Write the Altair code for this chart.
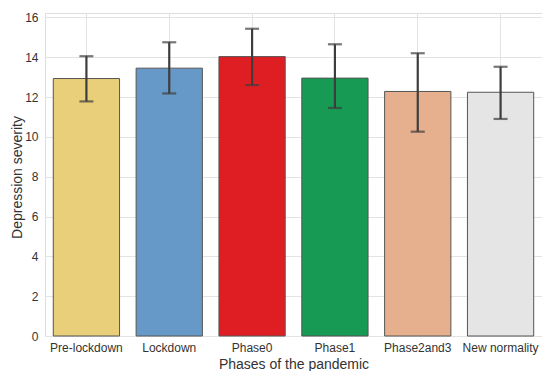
import altair as alt
import pandas as pd

phases = ["Pre-lockdown", "Lockdown", "Phase0", "Phase1", "Phase2and3", "New normality"]
means = [12.93, 13.45, 14.03, 12.95, 12.28, 12.24]
lower = [11.78, 12.18, 12.60, 11.45, 10.26, 10.90]
upper = [14.05, 14.75, 15.43, 14.65, 14.20, 13.52]
colors = ["#E9CF79", "#6699C7", "#DF1E24", "#179A53", "#E6B08F", "#E5E5E5"]

df = pd.DataFrame({"phase": phases, "mean": means, "lo": lower, "hi": upper})

FONT = "Liberation Sans"

x_enc = alt.X(
    "phase:N",
    sort=phases,
    scale=alt.Scale(paddingInner=0.2, paddingOuter=0.1),
    axis=alt.Axis(
        title="Phases of the pandemic",
        labelAngle=0,
        labelFontSize=12,
        labelFont=FONT,
        labelColor="#333333",
        labelPadding=6,
        ticks=False,
        tickSize=0,
        domain=False,
        grid=True,
        bandPosition=0.5,
        gridColor="#e3e3e3",
        gridWidth=1,
        titleFontSize=14,
        titleFont=FONT,
        titleFontWeight="normal",
        titleColor="#333333",
        titleBaseline="alphabetic",
        titleY=32,
    ),
)

y_scale = alt.Scale(domain=[0, 16.22], nice=False, zero=True)

y_axis = alt.Axis(
    title="Depression severity",
    values=[0, 2, 4, 6, 8, 10, 12, 14, 16],
    labelFontSize=12,
    labelFont=FONT,
    labelColor="#333333",
    labelPadding=7,
    ticks=False,
    tickSize=0,
    domain=False,
    grid=True,
    gridColor="#e3e3e3",
    gridWidth=1,
    titleFontSize=14,
    titleFont=FONT,
    titleFontWeight="normal",
    titleColor="#333333",
    titleAngle=270,
    titleAlign="center",
    titleBaseline="middle",
    titleX=-28,
    titleY=164,
)

bars = alt.Chart(df).mark_bar(stroke="#555555", strokeWidth=1).encode(
    x=x_enc,
    y=alt.Y("mean:Q", scale=y_scale, axis=y_axis),
    color=alt.Color("phase:N", scale=alt.Scale(domain=phases, range=colors), legend=None),
)

err = alt.Chart(df).mark_rule(color="#3d3d3d", strokeWidth=2.2).encode(
    x=alt.X("phase:N", sort=phases),
    y=alt.Y("lo:Q", scale=y_scale),
    y2="hi:Q",
)

cap_hi = alt.Chart(df).mark_tick(color="#3d3d3d", thickness=2.2, size=14, orient="horizontal").encode(
    x=alt.X("phase:N", sort=phases),
    y=alt.Y("hi:Q", scale=y_scale),
)

cap_lo = alt.Chart(df).mark_tick(color="#3d3d3d", thickness=2.2, size=14, orient="horizontal").encode(
    x=alt.X("phase:N", sort=phases),
    y=alt.Y("lo:Q", scale=y_scale),
)

chart = (
    alt.layer(bars, err, cap_hi, cap_lo)
    .properties(
        width=497,
        height=323,
        autosize=alt.AutoSizeParams(type="none"),
        padding={"left": 37, "top": 5, "right": 0, "bottom": 35},
    )
    .configure_view(stroke="#dcdcdc", strokeWidth=1.2)
    .configure(background="white")
)

chart.save("out.html", embed_options={"renderer": "svg", "actions": False})
